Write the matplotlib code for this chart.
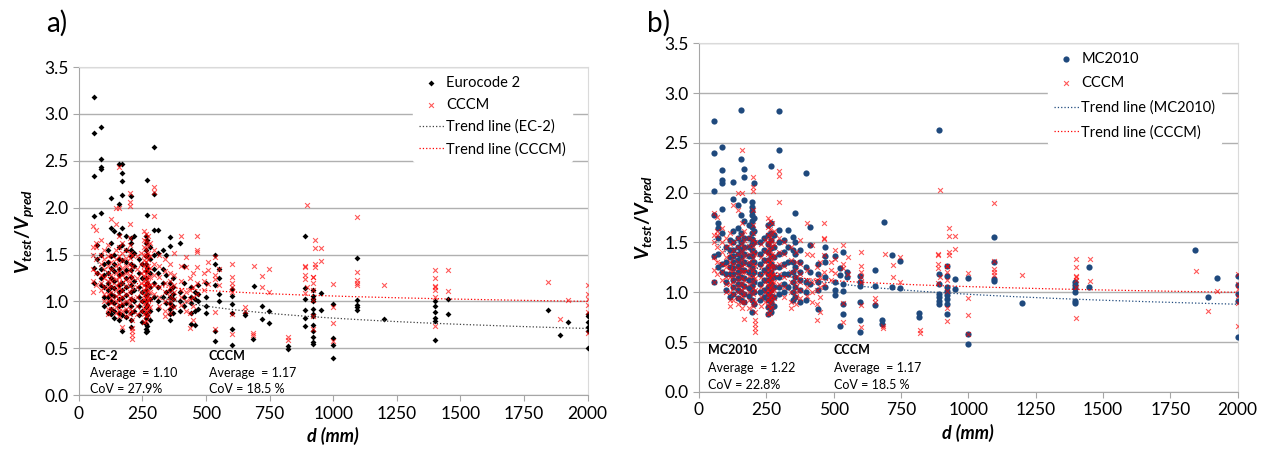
import numpy as np
import matplotlib
matplotlib.use("Agg")
import matplotlib.pyplot as plt

plt.rcParams['font.family'] = ['Lato', 'DejaVu Sans']
plt.rcParams['mathtext.fontset'] = 'custom'
plt.rcParams['mathtext.it'] = 'Lato:italic:bold'
plt.rcParams['mathtext.rm'] = 'Lato:bold'

# Test series grouped by effective depth d (mm): (d, [V_test/V_pred, ...])
ec2_groups = [
    (58, [3.18, 2.80, 2.34, 1.91, 1.36, 1.20]),
    (70, [1.60, 1.45, 1.30]),
    (86, [2.86, 2.52, 2.43, 2.41, 1.94, 1.50, 1.35, 1.25, 1.18]),
    (100, [1.40, 1.28, 1.15, 1.05, 0.95]),
    (115, [1.55, 1.42, 1.30, 1.20, 1.12, 1.05, 0.98, 0.88]),
    (127, [2.10, 1.78, 1.62, 1.48, 1.36, 1.25, 1.15, 1.08, 1.00, 0.92, 0.86]),
    (140, [1.75, 1.50, 1.40, 1.32, 1.22, 1.14, 1.06, 0.98, 0.90, 0.82]),
    (158, [2.47, 2.04, 1.72, 1.58, 1.45, 1.35, 1.28, 1.18, 1.10, 1.02, 0.95, 0.88, 0.80]),
    (171, [2.47, 2.37, 2.28, 2.13, 1.78, 1.60, 1.44, 1.30, 1.20, 1.12, 1.04, 0.96, 0.85, 0.68]),
    (185, [1.70, 1.55, 1.42, 1.33, 1.25, 1.15, 1.07, 0.98, 0.90, 0.83]),
    (204, [2.12, 1.68, 1.62, 1.55, 1.48, 1.40, 1.33, 1.26, 1.18, 1.10, 1.03, 0.95, 0.88, 0.80, 0.73]),
    (215, [1.70, 1.52, 1.38, 1.22, 1.12, 1.00, 0.90]),
    (235, [1.45, 1.30, 1.15, 1.05, 0.95, 0.85]),
    (250, [1.40, 1.25, 1.10, 1.00, 0.90, 0.78]),
    (262, [1.70, 1.62, 1.55, 1.48, 1.40, 1.32, 1.25, 1.18, 1.12, 1.06, 1.00, 0.94, 0.88, 0.82, 0.76, 0.70, 0.67]),
    (267, [2.30, 1.92, 1.65, 1.50, 1.36, 1.20, 1.08, 0.96, 0.85, 0.74, 0.68]),
    (278, [1.58, 1.45, 1.30, 1.15, 1.02, 0.90, 0.80]),
    (297, [2.65, 2.15, 1.76, 1.50, 1.35, 1.20, 1.05]),
    (310, [1.76, 1.52, 1.30, 1.15, 1.00, 0.92]),
    (330, [1.55, 1.35, 1.20, 1.05]),
    (344, [1.50, 1.28, 1.10, 0.98]),
    (358, [1.69, 1.59, 1.20, 1.12, 1.05, 0.98, 0.92, 0.86, 0.80]),
    (370, [1.25, 1.15, 1.08, 1.02, 0.95, 0.88]),
    (398, [1.62, 1.10, 1.00, 0.90]),
    (414, [1.38, 1.20, 1.05, 0.95]),
    (440, [1.15, 1.05, 0.98, 0.88, 0.76]),
    (455, [1.10, 1.02, 0.90, 0.75]),
    (470, [1.18, 1.08, 1.00, 0.92]),
    (500, [1.20, 1.05, 0.95, 0.88]),
    (535, [1.50, 1.40, 1.18, 0.68, 0.58]),
    (549, [1.35, 1.25, 1.08, 1.00]),
    (600, [1.13, 1.06, 0.97, 0.88, 0.70, 0.53]),
    (652, [0.88, 0.85]),
    (683, [0.60]),
    (690, [1.16]),
    (720, [0.95, 0.81]),
    (748, [0.90, 0.77]),
    (822, [0.52, 0.49]),
    (888, [1.70, 1.14, 1.03, 0.91, 0.82, 0.74]),
    (920, [1.12, 1.06, 1.02, 1.00, 0.92, 0.87, 0.84, 0.75, 0.68, 0.62, 0.57, 0.55]),
    (951, [1.09, 0.91]),
    (1000, [0.97, 0.61, 0.53, 0.40]),
    (1094, [1.46, 1.01, 0.96, 0.94, 0.91]),
    (1200, [0.81]),
    (1400, [1.00, 0.95, 0.89, 0.82, 0.79, 0.59]),
    (1450, [1.03, 0.86]),
    (1844, [0.91]),
    (1890, [0.64]),
    (1924, [0.78]),
    (2000, [0.87, 0.84, 0.78, 0.73, 0.68, 0.50]),
]

cccm_groups = [
    (56, [1.80, 1.58, 1.50, 1.35, 1.22, 1.10]),
    (67, [1.76, 1.62, 1.58, 1.45, 1.30, 1.18]),
    (86, [1.65, 1.50, 1.40, 1.28, 1.20, 1.12]),
    (100, [1.55, 1.45, 1.35, 1.25, 1.15, 1.08, 1.00]),
    (115, [1.60, 1.48, 1.38, 1.30, 1.22, 1.15, 1.08, 1.00, 0.92, 0.86]),
    (128, [1.88, 1.50, 1.42, 1.35, 1.28, 1.22, 1.16, 1.10, 1.04, 0.98, 0.92]),
    (145, [2.00, 1.83, 1.55, 1.45, 1.38, 1.30, 1.24, 1.18, 1.12, 1.06, 1.00, 0.94, 0.88]),
    (158, [2.43, 2.00, 1.70, 1.58, 1.48, 1.40, 1.32, 1.26, 1.20, 1.14, 1.08, 1.02, 0.96, 0.90, 0.84]),
    (169, [1.62, 1.52, 1.44, 1.36, 1.28, 1.20, 1.12, 1.05, 0.98, 0.90, 0.73]),
    (185, [1.55, 1.46, 1.38, 1.30, 1.24, 1.16, 1.08, 1.00, 0.92, 0.84]),
    (201, [2.16, 2.06, 2.02, 1.83, 1.68, 1.60, 1.52, 1.46, 1.40, 1.34, 1.28, 1.22, 1.16, 1.10, 1.04, 0.98, 0.92, 0.86]),
    (209, [1.50, 1.38, 1.26, 1.14, 1.02, 0.90, 0.80, 0.72, 0.68, 0.64, 0.60]),
    (230, [1.48, 1.35, 1.25, 1.15, 1.05, 0.95, 0.86]),
    (245, [1.52, 1.40, 1.30, 1.20, 1.10, 1.00, 0.90]),
    (257, [1.75, 1.66, 1.58, 1.50, 1.44, 1.38, 1.32, 1.27, 1.22, 1.17, 1.12, 1.07, 1.02, 0.97, 0.92, 0.86, 0.78]),
    (265, [1.72, 1.64, 1.56, 1.49, 1.42, 1.36, 1.30, 1.25, 1.20, 1.15, 1.10, 1.05, 1.00, 0.95, 0.90, 0.84, 0.79]),
    (272, [1.70, 1.60, 1.52, 1.45, 1.38, 1.32, 1.26, 1.21, 1.16, 1.11, 1.06, 1.01, 0.96, 0.91, 0.85]),
    (280, [1.62, 1.48, 1.36, 1.26, 1.18, 1.10, 1.02, 0.94]),
    (297, [2.22, 2.17, 1.91, 1.55, 1.40, 1.28, 1.18, 1.08]),
    (315, [1.50, 1.38, 1.26, 1.15, 1.05, 0.95]),
    (340, [1.45, 1.32, 1.20, 1.10, 1.00, 0.90, 0.84]),
    (360, [1.40, 1.30, 1.22, 1.15, 1.10, 1.05, 1.00, 0.95, 0.88]),
    (375, [1.52, 1.28, 1.18, 1.10, 1.02, 0.94]),
    (402, [1.70, 1.38, 1.22, 1.12, 1.05, 0.96]),
    (420, [1.47, 1.37, 1.10, 1.00, 0.90]),
    (437, [1.25, 1.12, 1.02, 0.88, 0.72]),
    (450, [1.30, 1.15, 1.05, 0.95, 0.80]),
    (466, [1.70, 1.55, 1.53, 1.37, 1.20, 1.08]),
    (490, [1.30, 1.22, 1.12]),
    (506, [1.42, 1.33, 1.19]),
    (535, [1.47, 1.28, 1.24, 0.89, 0.70]),
    (552, [1.35, 1.18]),
    (600, [1.40, 1.26, 1.20, 1.15, 1.10, 0.87, 0.65]),
    (652, [0.94, 0.90]),
    (683, [0.66, 0.64]),
    (690, [1.38]),
    (720, [1.27, 1.15]),
    (748, [1.35, 1.10]),
    (822, [0.62, 0.59]),
    (888, [1.38, 1.37, 1.28, 1.24, 1.09]),
    (895, [2.03, 1.15]),
    (920, [1.26, 1.26, 1.20, 1.12, 1.01, 0.84, 0.71]),
    (930, [1.65, 1.57, 1.40, 1.37]),
    (951, [1.57, 1.43]),
    (1000, [1.19, 0.94, 0.77, 0.58]),
    (1094, [1.90, 1.31, 1.23, 1.20, 1.17]),
    (1200, [1.17]),
    (1400, [1.33, 1.25, 1.16, 1.15, 1.12, 1.05, 0.74]),
    (1450, [1.33, 1.11]),
    (1844, [1.21]),
    (1890, [0.81]),
    (1924, [1.01]),
    (2000, [1.18, 1.08, 1.03, 0.96, 0.89, 0.66]),
]

mc2010_groups = [
    (54, [2.72, 2.40, 2.02, 1.78, 1.36, 1.10]),
    (70, [1.70, 1.65, 1.55, 1.38, 1.25]),
    (84, [2.46, 2.23, 2.13, 2.10, 1.84, 1.60, 1.28, 1.20]),
    (100, [1.45, 1.30, 1.18, 1.10, 1.02]),
    (114, [1.52, 1.42, 1.35, 1.25, 1.18, 0.95]),
    (127, [2.11, 1.94, 1.62, 1.50, 1.42, 1.36, 1.30, 1.24, 1.18, 1.12, 1.05, 0.98]),
    (145, [1.88, 1.65, 1.55, 1.45, 1.38, 1.32, 1.26, 1.20, 1.14, 1.08, 1.02, 0.94]),
    (157, [2.83, 2.34, 1.78, 1.60, 1.50, 1.42, 1.35, 1.28, 1.22, 1.15, 1.08, 1.00, 0.92]),
    (169, [2.24, 2.16, 1.93, 1.72, 1.55, 1.45, 1.38, 1.30, 1.22, 1.14, 1.06, 0.98, 0.90]),
    (185, [1.68, 1.55, 1.45, 1.36, 1.28, 1.20, 1.12, 1.04, 0.96]),
    (198, [1.91, 1.86, 1.82, 1.78, 1.72, 1.66, 1.60, 1.54, 1.48, 1.42, 1.36, 1.30, 1.24, 1.18, 1.12, 1.06, 1.00, 0.92, 0.80]),
    (206, [2.10, 1.75, 1.62, 1.50, 1.40, 1.30, 1.20, 1.10, 1.00, 0.88]),
    (225, [1.50, 1.38, 1.28, 1.18, 1.08, 1.00, 0.92]),
    (240, [1.55, 1.42, 1.32, 1.22, 1.12, 1.02, 0.95]),
    (255, [1.68, 1.58, 1.48, 1.40, 1.32, 1.25, 1.18, 1.12, 1.05, 0.98, 0.92, 0.85, 0.78]),
    (266, [2.27, 1.70, 1.60, 1.52, 1.44, 1.36, 1.28, 1.20, 1.14, 1.08, 1.02, 0.96, 0.90, 0.84, 0.80]),
    (278, [1.58, 1.45, 1.35, 1.25, 1.15, 1.05, 0.95, 0.86]),
    (299, [2.82, 2.43, 1.63, 1.50, 1.38, 1.25, 1.15, 1.05, 0.98]),
    (315, [1.52, 1.40, 1.28, 1.18, 1.08, 1.00]),
    (330, [1.63, 1.45, 1.30, 1.18, 1.05]),
    (348, [1.56, 1.42, 1.30, 1.20, 1.10, 1.00, 0.92]),
    (358, [1.80, 1.50, 1.38, 1.25, 1.15, 1.05, 0.95]),
    (375, [1.42, 1.30, 1.20, 1.12, 1.02, 0.90]),
    (397, [2.20, 1.25, 1.10, 1.00, 0.92]),
    (412, [1.66, 1.47, 1.20, 1.08]),
    (442, [1.28, 1.18, 1.10, 1.02, 0.83]),
    (467, [1.45, 1.36, 1.30, 1.15, 1.05]),
    (504, [1.36, 1.10, 1.02, 0.97]),
    (525, [1.24, 1.17, 0.66]),
    (534, [1.40, 1.08, 1.01, 0.88, 0.78]),
    (550, [1.20, 1.15]),
    (598, [1.16, 1.10, 1.06, 0.90, 0.72, 0.60]),
    (654, [1.22, 1.06, 0.87]),
    (680, [0.72, 0.68]),
    (688, [1.71]),
    (716, [1.37, 1.05]),
    (746, [1.31, 1.04]),
    (818, [0.79, 0.75]),
    (893, [2.63, 1.18, 1.08, 0.98, 0.95, 0.91, 0.88]),
    (922, [1.26, 1.16, 1.05, 1.01, 0.97, 0.93, 0.88, 0.78]),
    (949, [1.13, 1.03]),
    (997, [1.14, 0.58, 0.48]),
    (1094, [1.56, 1.30, 1.13, 1.11]),
    (1198, [0.89]),
    (1397, [1.10, 1.07, 1.04, 1.00, 0.91, 0.89]),
    (1449, [1.25, 1.05]),
    (1843, [1.42]),
    (1889, [0.95]),
    (1925, [1.14]),
    (2000, [1.16, 1.07, 0.98, 0.91, 0.55]),
]

# power trend lines (Excel style) y = a * d^b
trend_ec2 = (3.48, -0.209)
trend_cccm = (1.837, -0.080)
trend_mc2010 = (2.86, -0.155)

stats_a = [("EC-2", "1.10", "27.9%"), ("CCCM", "1.17", "18.5 %")]
stats_b = [("MC2010", "1.22", "22.8%"), ("CCCM", "1.17", "18.5 %")]


def expand(groups):
    d = [g[0] for g in groups for _ in g[1]]
    v = [x for g in groups for x in g[1]]
    return np.array(d, float), np.array(v, float)


def style_axes(ax):
    ax.set_xlim(0, 2000)
    ax.set_ylim(0, 3.5)
    ax.set_xticks(np.arange(0, 2001, 250))
    ax.set_yticks(np.arange(0, 3.51, 0.5))
    ax.yaxis.set_major_formatter(matplotlib.ticker.FormatStrFormatter('%.1f'))
    ax.grid(axis='y', color='#b0b0b0', lw=1.0)
    ax.set_axisbelow(True)
    for s in ['left', 'bottom']:
        ax.spines[s].set_color('#a6a6a6')
    for s in ['right', 'top']:
        ax.spines[s].set_color('#dadada')
    ax.tick_params(axis='both', colors='#a6a6a6', labelcolor='black', labelsize=12.5, length=4)
    ax.set_xlabel('d (mm)', fontsize=13, fontweight='bold', style='italic', labelpad=4)
    ax.set_ylabel(r'$V_{test}/V_{pred}$', fontsize=14, labelpad=6)


def add_stats(ax, stats, xs):
    for (name, avg, cov), x in zip(stats, xs):
        ax.text(x, 0.42, name, fontsize=9, fontweight='bold', va='center')
        ax.text(x, 0.24, "Average  = " + avg, fontsize=9, va='center')
        ax.text(x, 0.07, "CoV = " + cov, fontsize=9, va='center')


fig = plt.figure(figsize=(12.72, 4.5), dpi=100)
ax1 = fig.add_axes([0.062, 0.122, 0.400, 0.729])
ax2 = fig.add_axes([0.5495, 0.129, 0.4235, 0.775])

d_line = np.linspace(55, 2000, 400)
cccm_d, cccm_v = expand(cccm_groups)

# panel a
ec2_d, ec2_v = expand(ec2_groups)
ax1.scatter(ec2_d, ec2_v, marker='D', s=9, color='black', lw=0, label='Eurocode 2', zorder=3)
ax1.scatter(cccm_d, cccm_v, marker='x', s=12, color='red', alpha=0.65, lw=0.8, label='CCCM', zorder=4)
ax1.plot(d_line, trend_ec2[0] * d_line ** trend_ec2[1], ls=':', color='#404040', lw=0.9,
         label='Trend line (EC-2)', zorder=5)
ax1.plot(d_line, trend_cccm[0] * d_line ** trend_cccm[1], ls=':', color='red', lw=0.9,
         label='Trend line (CCCM)', zorder=5)
style_axes(ax1)
add_stats(ax1, stats_a, [43, 511])
ax1.legend(loc='upper right', bbox_to_anchor=(0.975, 1.0), fontsize=10.5, frameon=True,
           framealpha=1, edgecolor='white', facecolor='white', labelspacing=0.55,
           handlelength=1.7, handletextpad=0.2, borderaxespad=0.2)
fig.text(0.036, 0.93, 'a)', fontsize=20)

# panel b
mc_d, mc_v = expand(mc2010_groups)
ax2.scatter(mc_d, mc_v, marker='o', s=20, color='#1f497d', lw=0, label='MC2010', zorder=3)
ax2.scatter(cccm_d, cccm_v, marker='x', s=12, color='red', alpha=0.65, lw=0.8, label='CCCM', zorder=4)
ax2.plot(d_line, trend_mc2010[0] * d_line ** trend_mc2010[1], ls=':', color='#1f497d', lw=0.9,
         label='Trend line (MC2010)', zorder=5)
ax2.plot(d_line, trend_cccm[0] * d_line ** trend_cccm[1], ls=':', color='red', lw=0.9,
         label='Trend line (CCCM)', zorder=5)
style_axes(ax2)
add_stats(ax2, stats_b, [33, 501])
ax2.legend(loc='upper right', bbox_to_anchor=(0.975, 1.0), fontsize=10.5, frameon=True,
           framealpha=1, edgecolor='white', facecolor='white', labelspacing=0.7,
           handlelength=1.7, handletextpad=0.2, borderaxespad=0.2)
fig.text(0.509, 0.93, 'b)', fontsize=20)

fig.savefig('out.png', dpi=100, facecolor='white')
